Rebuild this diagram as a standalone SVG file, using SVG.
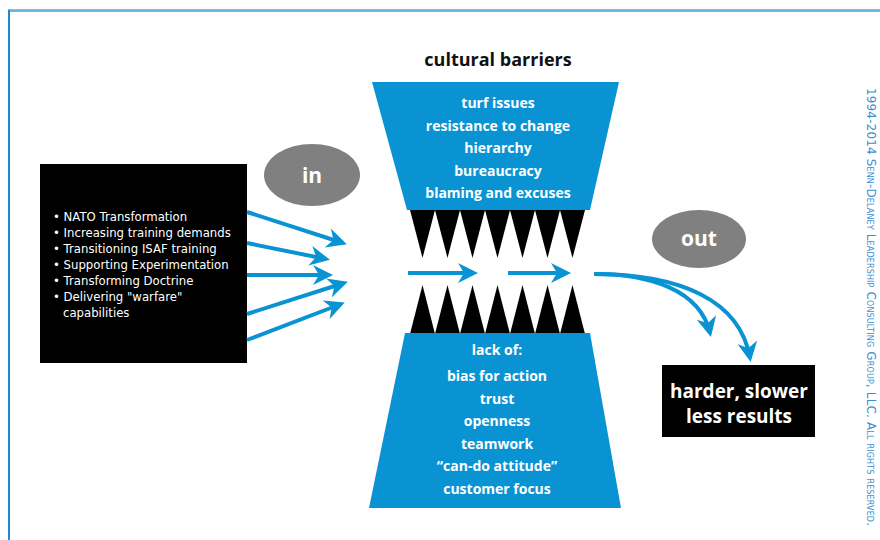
<svg xmlns="http://www.w3.org/2000/svg" width="880" height="540" viewBox="0 0 880 540">
<style>
.blue{fill:#0a93d3}
.tooth{fill:#000}
.w{fill:#fff;font-family:"Open Sans","Liberation Sans",sans-serif;font-weight:700;text-anchor:middle}
.list{fill:#fff;font-family:"DejaVu Sans","Liberation Sans",sans-serif;font-size:11.7px}
.arr{stroke:#0a93d3;stroke-width:4;fill:none}
.ah{fill:#0a93d3}
.oval{fill:#808080}
</style>
<defs>
<marker id="mh" viewBox="0 0 10 10" refX="8" refY="5" markerWidth="5" markerHeight="5" orient="auto" markerUnits="strokeWidth">
<path d="M0,0 L10,5 L0,10 L3,5 z" class="ah"/>
</marker>
</defs>
<rect width="880" height="540" fill="#fff"/>
<g id="frame">
<line x1="8" y1="9.5" x2="880" y2="9.5" stroke="#a9b4bf" stroke-width="1"/>
<line x1="8" y1="11" x2="880" y2="11" stroke="#6db5e1" stroke-width="2"/>
<line x1="9" y1="10" x2="9" y2="540" stroke="#1a8bd8" stroke-width="2"/>
</g>
<g id="title"><text x="498" y="66" font-family="Open Sans, Liberation Sans, sans-serif" font-weight="700" font-size="18" text-anchor="middle" fill="#111">cultural barriers</text></g>
<g id="top-funnel">
<polygon class="blue" points="372,82 619,82 590,210 407,210"/>
<text class="w" font-size="14" x="498" y="108">turf issues</text>
<text class="w" font-size="14" x="498" y="131">resistance to change</text>
<text class="w" font-size="14" x="498" y="153">hierarchy</text>
<text class="w" font-size="14" x="498" y="176">bureaucracy</text>
<text class="w" font-size="14" x="498" y="198">blaming and excuses</text>
</g>
<g id="top-teeth" class="tooth">
<polygon points="410,210 435,210 422.5,258"/>
<polygon points="435,210 460,210 447.5,258"/>
<polygon points="460,210 485,210 472.5,258"/>
<polygon points="485,210 510,210 497.5,258"/>
<polygon points="510,210 535,210 522.5,258"/>
<polygon points="535,210 560,210 547.5,258"/>
<polygon points="560,210 585,210 572.5,258"/>
</g>
<g id="bottom-teeth" class="tooth">
<polygon points="410,334 435,334 422.5,285"/>
<polygon points="435,334 460,334 447.5,285"/>
<polygon points="460,334 485,334 472.5,285"/>
<polygon points="485,334 510,334 497.5,285"/>
<polygon points="510,334 535,334 522.5,285"/>
<polygon points="535,334 560,334 547.5,285"/>
<polygon points="560,334 585,334 572.5,285"/>
</g>
<g id="bottom-funnel">
<polygon class="blue" points="405,333 590,333 621,508 369,508"/>
<text class="w" font-size="14" x="497" y="355">lack of:</text>
<text class="w" font-size="14" x="497" y="381">bias for action</text>
<text class="w" font-size="14" x="497" y="404">trust</text>
<text class="w" font-size="14" x="497" y="426">openness</text>
<text class="w" font-size="14" x="497" y="449">teamwork</text>
<text class="w" font-size="14" x="497" y="471">“can-do attitude”</text>
<text class="w" font-size="14" x="497" y="494">customer focus</text>
</g>
<g id="inputs">
<rect x="40" y="164" width="207" height="199" fill="#000"/>
<text class="list" x="53" y="221">• NATO Transformation</text>
<text class="list" x="53" y="237">• Increasing training demands</text>
<text class="list" x="53" y="253">• Transitioning ISAF training</text>
<text class="list" x="53" y="269">• Supporting Experimentation</text>
<text class="list" x="53" y="285">• Transforming Doctrine</text>
<text class="list" x="53" y="301">• Delivering "warfare"</text>
<text class="list" x="63" y="317">capabilities</text>
</g>
<g id="in-label">
<ellipse class="oval" cx="312" cy="175" rx="48" ry="31"/>
<text class="w" font-size="21" x="312" y="183">in</text>
</g>
<g id="out-label">
<ellipse class="oval" cx="699" cy="239" rx="47" ry="29"/>
<text class="w" font-size="21" x="699" y="246">out</text>
</g>
<g id="result">
<rect x="662" y="365" width="153" height="72" fill="#000"/>
<text class="w" font-size="19" x="739" y="398">harder, slower</text>
<text class="w" font-size="19" x="739" y="423">less results</text>
</g>
<g id="connectors">
<line class="arr" x1="247" y1="212" x2="343" y2="243" marker-end="url(#mh)"/>
<line class="arr" x1="247" y1="243" x2="326" y2="259" marker-end="url(#mh)"/>
<line class="arr" x1="247" y1="275" x2="329" y2="275" marker-end="url(#mh)"/>
<line class="arr" x1="247" y1="314" x2="344" y2="283" marker-end="url(#mh)"/>
<line class="arr" x1="247" y1="340" x2="341" y2="304" marker-end="url(#mh)"/>
<line class="arr" x1="408" y1="273" x2="474" y2="273" marker-end="url(#mh)"/>
<line class="arr" x1="508" y1="273" x2="567" y2="273" marker-end="url(#mh)"/>
<path class="arr" d="M594,274 C650,274 700,290 710,333" marker-end="url(#mh)"/>
<path class="arr" d="M594,274 C680,274 740,300 750,358" marker-end="url(#mh)"/>
</g>
<g id="copyright">
<text x="867" y="88" transform="rotate(90 867 88)" font-family="DejaVu Sans, sans-serif" font-size="12" font-variant="small-caps" textLength="438" lengthAdjust="spacing" fill="#3a8fcf">1994-2014 Senn-Delaney Leadership Consulting Group, LLC. All rights reserved.</text>
</g>
</svg>
